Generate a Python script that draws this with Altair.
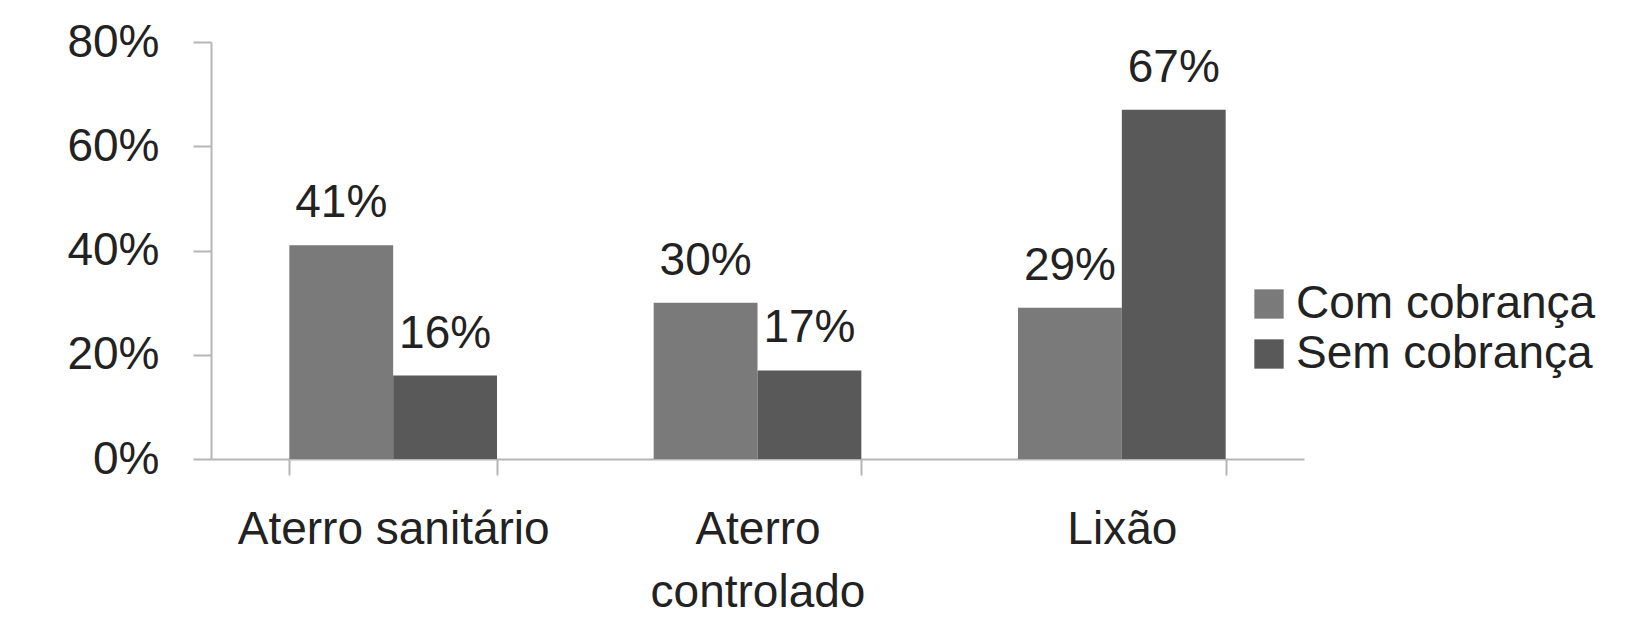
import altair as alt
import pandas as pd

categories = ["Aterro sanitário", "Aterro controlado", "Lixão"]
series = ["Com cobrança", "Sem cobrança"]
com_values = [0.41, 0.30, 0.29]
sem_values = [0.16, 0.17, 0.67]
colors = ["#7a7a7a", "#595959"]

rows = []
for c, a, b in zip(categories, com_values, sem_values):
    rows.append({"categoria": c, "serie": series[0], "valor": a})
    rows.append({"categoria": c, "serie": series[1], "valor": b})
df = pd.DataFrame(rows)

FONT = "Liberation Sans"
FS = 46
AXIS_COLOR = "#b5b5b5"
TEXT_COLOR = "#222222"

x_enc = alt.X(
    "categoria:N",
    sort=categories,
    title=None,
    scale=alt.Scale(paddingInner=0.43, paddingOuter=0.215),
    axis=alt.Axis(
        labelAngle=0,
        tickBand="extent",
        domainColor=AXIS_COLOR,
        tickColor=AXIS_COLOR,
        domainWidth=2,
        tickWidth=2,
        tickSize=16,
        labelFontSize=FS,
        labelFont=FONT,
        labelColor=TEXT_COLOR,
        labelPadding=32,
        labelLimit=0,
        labelLineHeight=63,
        labelExpr="datum.value == 'Aterro controlado' ? ['Aterro', 'controlado'] : datum.value",
    ),
)
xoff = alt.XOffset("serie:N", sort=series, scale=alt.Scale(paddingInner=0, paddingOuter=0))
y_enc = alt.Y(
    "valor:Q",
    title=None,
    scale=alt.Scale(domain=[0, 0.8], nice=False),
    axis=alt.Axis(
        values=[0, 0.2, 0.4, 0.6, 0.8],
        format=".0%",
        grid=False,
        domainColor=AXIS_COLOR,
        tickColor=AXIS_COLOR,
        domainWidth=2,
        tickWidth=2,
        tickSize=18,
        labelFontSize=FS,
        labelFont=FONT,
        labelColor=TEXT_COLOR,
        labelPadding=34,
    ),
)

bars = alt.Chart(df).mark_bar().encode(
    x=x_enc,
    xOffset=xoff,
    y=y_enc,
    color=alt.Color(
        "serie:N",
        sort=series,
        scale=alt.Scale(domain=series, range=colors),
        legend=alt.Legend(
            title=None,
            orient="none",
            legendX=1035,
            legendY=239,
            symbolType="square",
            symbolSize=860,
            symbolStrokeWidth=0,
            labelFontSize=FS,
            labelFont=FONT,
            labelColor=TEXT_COLOR,
            labelLimit=0,
            labelOffset=4,
            rowPadding=4,
        ),
    ),
)

labels = alt.Chart(df).mark_text(
    dy=-28, baseline="alphabetic", fontSize=FS, font=FONT, color=TEXT_COLOR
).encode(
    x=alt.X("categoria:N", sort=categories),
    xOffset=alt.XOffset("serie:N", sort=series),
    y=alt.Y("valor:Q"),
    text=alt.Text("valor:Q", format=".0%"),
)

chart = (
    alt.layer(bars, labels)
    .properties(
        width=1093,
        height=417,
        autosize=alt.AutoSizeParams(type="none"),
        padding={"left": 211, "top": 42, "right": 332, "bottom": 164},
        background="white",
    )
    .configure_view(stroke=None)
)

chart.save("out.html", embed_options={"renderer": "svg", "actions": False})
